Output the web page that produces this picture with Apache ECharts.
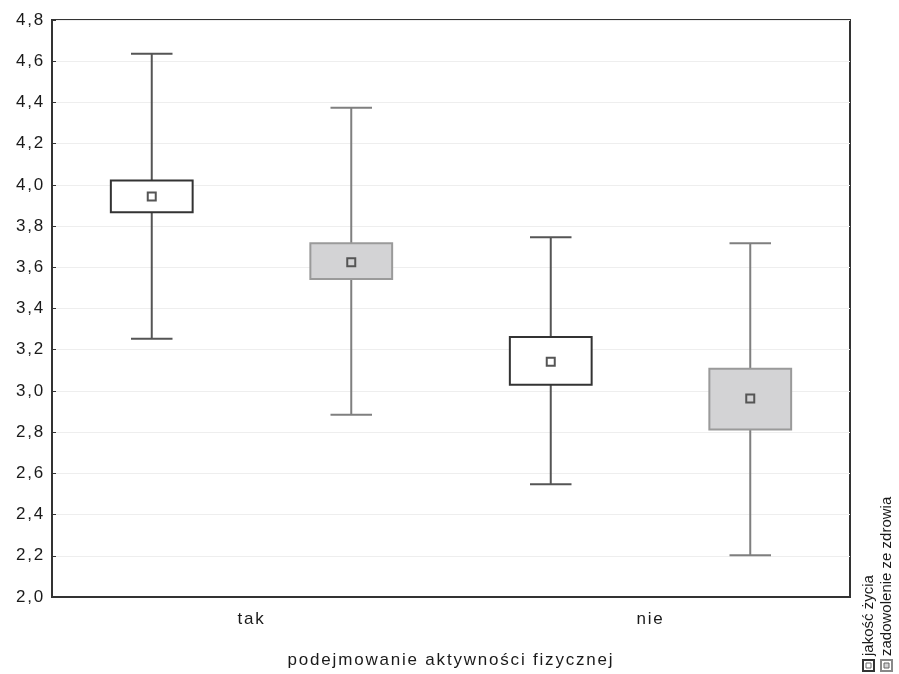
<!DOCTYPE html>
<html><head><meta charset="utf-8">
<script src="https://cdn.jsdelivr.net/npm/echarts@6/dist/echarts.min.js"></script>
<style>html,body{margin:0;padding:0;background:#fff}#c{width:899px;height:674px}</style>
</head><body><div id="c"></div>
<script>
const categories = ['tak', 'nie'];
const seriesNames = ['jakość życia', 'zadowolenie ze zdrowia'];
// [min, q1, mean, q3, max] per category
const jakoscMin  = [3.253, 2.547];
const jakoscQ1   = [3.867, 3.030];
const jakoscMean = [3.944, 3.141];
const jakoscQ3   = [4.021, 3.262];
const jakoscMax  = [4.636, 3.746];
const zadMin  = [2.885, 2.203];
const zadQ1   = [3.543, 2.813];
const zadMean = [3.625, 2.963];
const zadQ3   = [3.717, 3.108];
const zadMax  = [4.374, 3.717];
const yTicks = [2.0, 2.2, 2.4, 2.6, 2.8, 3.0, 3.2, 3.4, 3.6, 3.8, 4.0, 4.2, 4.4, 4.6, 4.8];
const xAxisName = 'podejmowanie aktywności fizycznej';

const styles = [
  {fill: '#ffffff', stroke: '#333333', whisker: '#555555', offset: -0.25},
  {fill: '#d3d3d5', stroke: '#9a9a9a', whisker: '#7f7f7f', offset: 0.25}
];

function build(mins, q1s, means, q3s, maxs) {
  return categories.map((c, i) => [i, mins[i], q1s[i], means[i], q3s[i], maxs[i]]);
}

function makeRender(st) {
  return function (params, api) {
    const cat = api.value(0);
    const band = api.size([1, 0])[0];
    const cx = api.coord([cat, 0])[0] + st.offset * band;
    const yMin = api.coord([cat, api.value(1)])[1];
    const yQ1 = api.coord([cat, api.value(2)])[1];
    const yMean = api.coord([cat, api.value(3)])[1];
    const yQ3 = api.coord([cat, api.value(4)])[1];
    const yMax = api.coord([cat, api.value(5)])[1];
    const bw = band * 0.205;
    const cw = band * 0.104;
    const lineStyle = {stroke: st.whisker, lineWidth: 2};
    return {
      type: 'group',
      children: [
        {type: 'line', shape: {x1: cx, y1: yMax, x2: cx, y2: yQ3}, style: lineStyle},
        {type: 'line', shape: {x1: cx, y1: yQ1, x2: cx, y2: yMin}, style: lineStyle},
        {type: 'line', shape: {x1: cx - cw / 2, y1: yMax, x2: cx + cw / 2, y2: yMax}, style: lineStyle},
        {type: 'line', shape: {x1: cx - cw / 2, y1: yMin, x2: cx + cw / 2, y2: yMin}, style: lineStyle},
        {type: 'rect', shape: {x: cx - bw / 2, y: yQ3, width: bw, height: yQ1 - yQ3},
          style: {fill: st.fill, stroke: st.stroke, lineWidth: 2}},
        {type: 'rect', shape: {x: cx - 4, y: yMean - 4, width: 8, height: 8},
          style: {fill: st.fill, stroke: '#555555', lineWidth: 2}}
      ]
    };
  };
}

const chart = echarts.init(document.getElementById('c'));
const legendGraphics = [];
seriesNames.forEach((name, i) => {
  const st = styles[i];
  const x = 868 + i * 18;
  legendGraphics.push({type: 'rect', zlevel: 1, shape: {x: x - 5, y: 660, width: 11, height: 11},
    style: {fill: '#fff', stroke: i === 0 ? '#333' : '#888', lineWidth: 2}});
  legendGraphics.push({type: 'rect', zlevel: 1, shape: {x: x - 2, y: 663, width: 5, height: 5},
    style: {fill: st.fill, stroke: '#666', lineWidth: 1}});
  legendGraphics.push({type: 'text', zlevel: 1, x: x + 1, y: 656, rotation: Math.PI / 2,
    style: {text: name, fill: '#1a1a1a', font: '15px "Liberation Sans", Arial, sans-serif',
      textAlign: 'left', textVerticalAlign: 'middle'}});
});

const font = 'Liberation Sans';
chart.setOption({
  animation: false,
  backgroundColor: '#fff',
  grid: {left: 52, right: 49, top: 20, bottom: 75, show: true, borderColor: '#333', borderWidth: 2},
  xAxis: {
    type: 'category', data: categories, boundaryGap: true,
    name: xAxisName, nameLocation: 'middle', nameGap: 55,
    nameTextStyle: {fontSize: 17, color: '#1a1a1a', fontFamily: font},
    axisLine: {lineStyle: {color: '#333', width: 2}},
    axisTick: {inside: true, alignWithLabel: true, length: 5, lineStyle: {color: '#333'}},
    axisLabel: {fontSize: 17, color: '#1a1a1a', margin: 14, fontFamily: font},
    splitLine: {show: false}
  },
  yAxis: {
    type: 'value', min: yTicks[0], max: yTicks[yTicks.length - 1], interval: 0.2,
    axisLine: {show: true, lineStyle: {color: '#333', width: 2}},
    axisTick: {show: true, inside: true, length: 4, lineStyle: {color: '#333'}},
    axisLabel: {fontSize: 17, color: '#1a1a1a', margin: 7, fontFamily: font,
      formatter: v => v.toFixed(1).replace('.', ',')},
    splitLine: {show: true, lineStyle: {color: '#eeeeee', width: 1}}
  },
  graphic: legendGraphics,
  series: [
    {name: seriesNames[0], type: 'custom', renderItem: makeRender(styles[0]),
      encode: {x: 0, y: [1, 2, 3, 4, 5]}, data: build(jakoscMin, jakoscQ1, jakoscMean, jakoscQ3, jakoscMax), z: 3},
    {name: seriesNames[1], type: 'custom', renderItem: makeRender(styles[1]),
      encode: {x: 0, y: [1, 2, 3, 4, 5]}, data: build(zadMin, zadQ1, zadMean, zadQ3, zadMax), z: 3}
  ]
});

// Reference text is slightly letter-spaced; apply spacing to the main canvas layer only.
try {
  const painter = chart.getZr().painter;
  const layer = painter.getLayer(0);
  if (layer && layer.ctx && 'letterSpacing' in layer.ctx) {
    layer.ctx.letterSpacing = '1.8px';
    painter.refresh(true);
  }
} catch (e) {}
</script></body></html>
